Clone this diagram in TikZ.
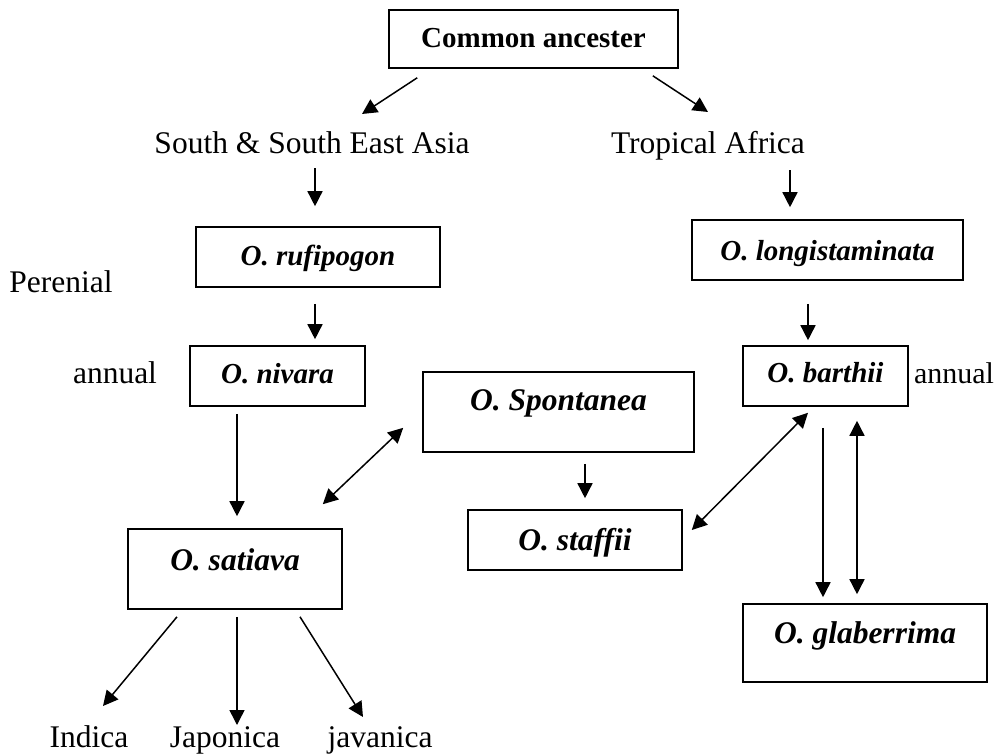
\documentclass[tikz,border=0pt]{standalone}
\usepackage{fontspec}
\setmainfont{Liberation Serif}
\usetikzlibrary{arrows.meta,calc}

\begin{document}
\begin{tikzpicture}[x=1pt,y=-1pt,
  plain/.style={inner sep=0pt, anchor=base, font=\fontsize{31.5}{36}\selectfont},
  box/.style={draw, line width=1.6pt, inner sep=0pt},
  smallbold/.style={box, text height=20pt, font=\fontsize{29}{34}\selectfont\bfseries\itshape},
  bigbold/.style={box, text height=22pt, font=\fontsize{31.5}{36}\selectfont\bfseries\itshape},
  tip/.tip={Triangle[length=15pt,width=15pt]},
  arr/.style={line width=1.5pt, -tip},
  darr/.style={line width=1.5pt, tip-tip}]
\useasboundingbox (0,0) rectangle (995,755);

% boxes
\node[box, text height=20pt, font=\fontsize{29}{34}\selectfont\bfseries, minimum width=289pt, minimum height=58pt, text depth=4pt]
  (ca) at (533.5,39) {Common ancester};
\node[smallbold, minimum width=244pt, minimum height=60pt, text depth=4pt] (ruf) at (318,257) {O. rufipogon};
\node[smallbold, minimum width=271pt, minimum height=60pt, text depth=0pt] (lon) at (827.5,250) {O. longistaminata};
\node[smallbold, minimum width=175pt, minimum height=60pt, text depth=6pt] (niv) at (277.5,376) {O. nivara};
\node[smallbold, minimum width=165pt, minimum height=60pt, text depth=8pt] (bar) at (825.5,376) {O. barthii};
\node[bigbold, minimum width=271pt, minimum height=80pt, text depth=26pt] (spo) at (558.5,412) {O. Spontanea};
\node[bigbold, minimum width=214pt, minimum height=80pt, text depth=20pt] (sat) at (235,569) {O. satiava};
\node[bigbold, minimum width=214pt, minimum height=60pt, text depth=2pt] (sta) at (575,540) {O. staffii};
\node[bigbold, minimum width=244pt, minimum height=78pt, text depth=22pt] (gla) at (865,643) {O. glaberrima};

% plain labels
\node[plain] (sea) at (312,153) {South \& South East Asia};
\node[plain] (ta) at (708,153) {Tropical Africa};
\node[plain] (per) at (61,292) {Perenial};
\node[plain] (an1) at (115,383) {annual};
\node[plain, font=\fontsize{30}{36}\selectfont] (an2) at (954,383) {annual};
\node[plain] (ind) at (89,747) {Indica};
\node[plain] (jap) at (225,747) {Japonica};
\node[plain] (jav) at (380,747) {javanica};

% connectors
\draw[arr] ($(ca.south west)+(29,9)$) -- ($(sea.base)+(50,-39)$);
\draw[arr] ($(ca.south east)+(-26,7)$) -- ($(ta.base)+(0,-41)$);
\draw[arr] ($(sea.base)+(3,15)$) -- ($(ruf.north)+(-3,-20)$);
\draw[arr] ($(ta.base)+(82,17)$) -- ($(lon.north)+(-37.5,-12)$);
\draw[arr] ($(ruf.south)+(-3,16)$) -- ($(niv.north)+(37.5,-6)$);
\draw[arr] ($(lon.south)+(-19.5,23)$) -- ($(bar.north)+(-17.5,-5)$);
\draw[arr] ($(niv.south)+(-40.5,7)$) -- ($(sat.north)+(2,-12)$);
\draw[darr] ($(sat.north east)+(-20,-24)$) -- ($(spo.south west)+(-19,-25)$);
\draw[arr] ($(spo.south)+(26.5,11)$) -- ($(sta.north)+(10,-11)$);
\draw[darr] ($(bar.south)+(-17.5,6)$) -- ($(sta.east)+(9,-10)$);
\draw[arr] ($(bar.south)+(-2.5,21)$) -- ($(gla.north)+(-42,-6)$);
\draw[darr] ($(bar.south)+(31.5,14)$) -- ($(gla.north)+(-8,-9)$);
\draw[arr] ($(sat.south)+(-58,7)$) -- ($(ind.base)+(14,-41)$);
\draw[arr] ($(sat.south)+(2,7)$) -- ($(jap.base)+(12,-22)$);
\draw[arr] ($(sat.south)+(65,7)$) -- ($(jav.base)+(-17,-30)$);
\end{tikzpicture}
\end{document}
